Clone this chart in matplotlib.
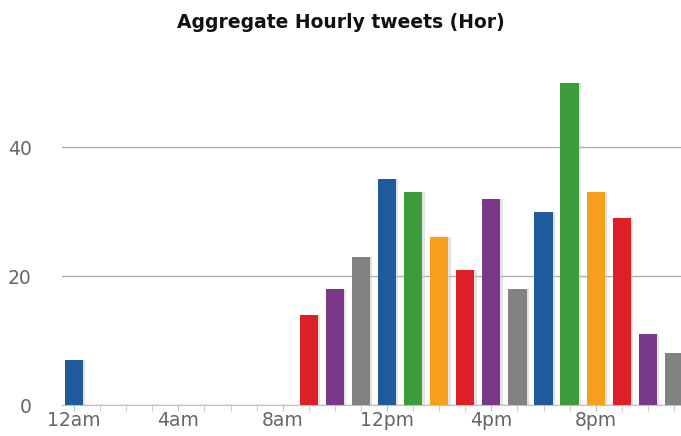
import matplotlib
matplotlib.use("Agg")
import matplotlib.pyplot as plt

hours = list(range(24))
tweets = [7, 0, 0, 0, 0, 0, 0, 0, 0, 14, 18, 23, 35, 33, 26, 21, 32, 18, 30, 50, 33, 29, 11, 8]
tick_hours = [0, 4, 8, 12, 16, 20]
tick_labels = ["12am", "4am", "8am", "12pm", "4pm", "8pm"]
palette = ["#1f5a9c", "#3c9c3c", "#f6a01e", "#dd2027", "#7a3988", "#828282"]

colors = [palette[h % 6] for h in hours]

fig = plt.figure(figsize=(6.81, 4.36), dpi=100)
ax = fig.add_axes([62/681, 31/436, 1 - 62/681, (405 - 65)/436])

# shadows
ax.bar([h + 0.09 for h in hours], tweets, width=0.7, color="#c8c8c8", alpha=0.5, zorder=2)
ax.bar(hours, tweets, width=0.7, color=colors, zorder=3)

ax.set_xlim(-0.46, 23.27)
ax.set_ylim(0, 340/6.45)
ax.set_yticks([0, 20, 40])
ax.yaxis.grid(True, color="#b0b0b0", linewidth=1.0, zorder=1)
ax.set_axisbelow(True)
ax.set_xticks(tick_hours)
ax.set_xticklabels(tick_labels)
ax.set_xticks(hours, minor=True)
ax.tick_params(axis="x", which="both", length=4, color="#c0c0c0", labelsize=13.5, labelcolor="#666666", pad=0)
ax.tick_params(axis="y", length=0, labelsize=13.5, labelcolor="#666666", pad=22)
for lbl in ax.get_yticklabels():
    lbl.set_horizontalalignment("right")
for s in ["top", "right", "left"]:
    ax.spines[s].set_visible(False)
ax.spines["bottom"].set_color("#c0c0c0")

fig.text(0.5, 1 - 22/436, "Aggregate Hourly tweets (Hor)", ha="center", va="center",
         fontsize=13.5, fontweight="bold", color="#111111")

fig.savefig("out.png", dpi=100)
